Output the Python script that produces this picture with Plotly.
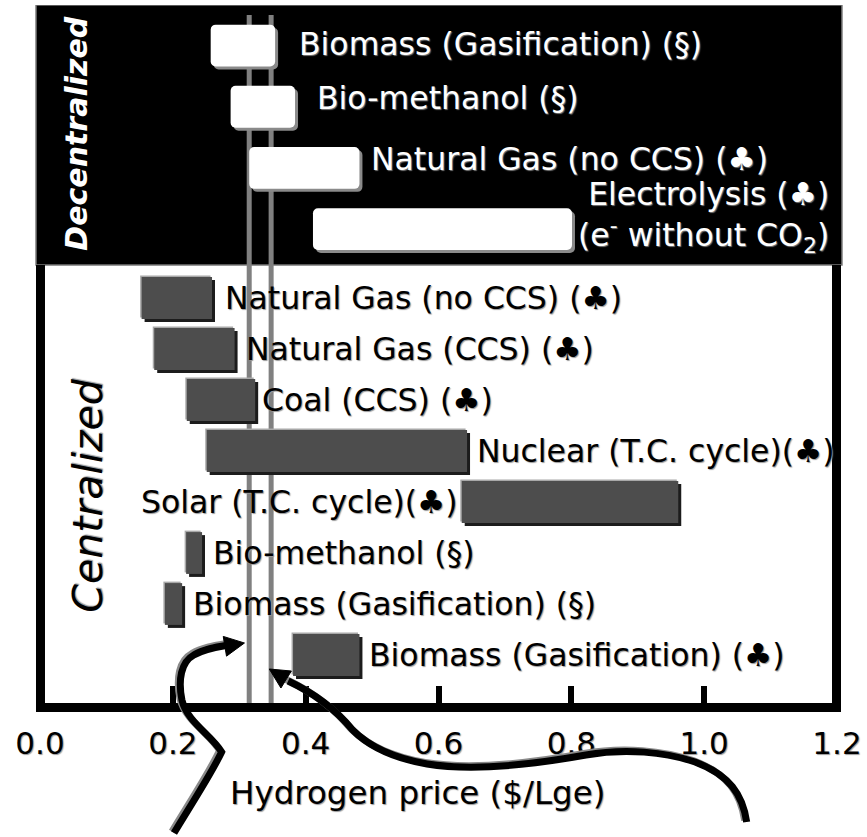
import math
import plotly.graph_objects as go

# ---------------- data ----------------
dec_labels = [
    "Biomass (Gasification) (§)",
    "Bio-methanol (§)",
    "Natural Gas (no CCS) (♣)",
    "Electrolysis (♣)<br>(e<sup>-</sup> without CO<sub>2</sub>)",
]
dec_low = [0.257, 0.287, 0.315, 0.411]
dec_high = [0.354, 0.384, 0.481, 0.801]

cen_labels = [
    "Natural Gas (no CCS) (♣)",
    "Natural Gas (CCS) (♣)",
    "Coal (CCS) (♣)",
    "Nuclear (T.C. cycle)(♣)",
    "Solar (T.C. cycle)(♣)",
    "Bio-methanol (§)",
    "Biomass (Gasification) (§)",
    "Biomass (Gasification) (♣)",
]
cen_low = [0.153, 0.172, 0.221, 0.251, 0.635, 0.220, 0.188, 0.381]
cen_high = [0.259, 0.293, 0.324, 0.643, 0.961, 0.244, 0.214, 0.481]

ref_lines = [0.315, 0.348]

x_tickvals = [0.0, 0.2, 0.4, 0.6, 0.8, 1.0, 1.2]
x_ticktext = ["0.0", "0.2", "0.4", "0.6", "0.8", "1.0", "1.2"]
axis_title = "Hydrogen price ($/Lge)"
group_labels = ["Decentralized", "Centralized"]

# ---------------- layout helpers (positions / styles) ----------------
cen_pos = [7, 6, 5, 4, 3, 2, 1, 0]
dec_pos = [11.95, 10.75, 9.55, 8.35]
split_y = 7.647
y_range = [-1.039, 12.745]
x_range = [0, 1.2]

W, H = 867, 837
ML, MR, MT, MB = 40, 24, 5, 129
PW = W - ML - MR
PH = H - MT - MB
BOTTOM = MT + PH


def X(px):
    return (px - ML) / PW


def Y(py):
    return (BOTTOM - py) / PH


FONT = "DejaVu Sans"
LBL = 31.5
bar_w = 0.82
dx_sh, dy_sh = 3 / 669, 3 / 51
dx_hl, dy_hl = 1.5 / 669, 1.5 / 51

dec_xshift = [22, 20, 10, 4]
dec_yshift = [2, 9, 9, 12]
dec_align = ["left", "left", "left", "right"]
cen_side = ["r", "r", "r", "r", "l", "r", "r", "r"]
cen_xshift = [11, 9, 5, 8, -2, 9, 9, 8]

fig = go.Figure()

dec_w = [h - l for l, h in zip(dec_low, dec_high)]
cen_w = [h - l for l, h in zip(cen_low, cen_high)]

# decentralized bars (white with grey shadow)
fig.add_trace(go.Bar(y=[p - dy_sh for p in dec_pos], base=[l + dx_sh for l in dec_low], x=dec_w,
                     orientation="h", width=bar_w,
                     marker=dict(color="#8a8a8a", line=dict(width=0), cornerradius=5),
                     hoverinfo="skip", showlegend=False))
fig.add_trace(go.Bar(y=dec_pos, base=dec_low, x=dec_w, orientation="h", width=bar_w,
                     marker=dict(color="#ffffff", line=dict(width=0), cornerradius=5),
                     showlegend=False))

# centralized bars (dark grey with highlight + shadow)
fig.add_trace(go.Bar(y=[p - dy_sh for p in cen_pos], base=[l + dx_sh for l in cen_low], x=cen_w,
                     orientation="h", width=bar_w,
                     marker=dict(color="#1c1c1c", line=dict(width=0)),
                     hoverinfo="skip", showlegend=False))
fig.add_trace(go.Bar(y=[p + dy_hl for p in cen_pos], base=[l - dx_hl for l in cen_low], x=cen_w,
                     orientation="h", width=bar_w,
                     marker=dict(color="#a8a8a8", line=dict(width=0)),
                     hoverinfo="skip", showlegend=False))
fig.add_trace(go.Bar(y=cen_pos, base=cen_low, x=cen_w, orientation="h", width=bar_w,
                     marker=dict(color="#4d4d4d", line=dict(width=0)),
                     showlegend=False))

shapes = []
# black decentralized panel
shapes.append(dict(type="rect", xref="paper", yref="y", x0=X(36), x1=X(848), y0=split_y, y1=y_range[1],
                   fillcolor="black", line=dict(color="#777777", width=1.5), layer="below"))
# reference vertical lines
for v in ref_lines:
    shapes.append(dict(type="line", xref="x", yref="y", x0=v, x1=v, y0=y_range[0], y1=12.55,
                       line=dict(color="#808080", width=5), layer="below"))
# thick frame
shapes.append(dict(type="line", xref="paper", yref="paper", x0=X(40.5), x1=X(40.5), y0=Y(265), y1=Y(712),
                   line=dict(color="black", width=9), layer="above"))
shapes.append(dict(type="line", xref="paper", yref="paper", x0=X(842.5), x1=X(842.5), y0=Y(265), y1=Y(712),
                   line=dict(color="black", width=9), layer="above"))
shapes.append(dict(type="line", xref="paper", yref="paper", x0=X(36), x1=X(847), y0=Y(707.5), y1=Y(707.5),
                   line=dict(color="black", width=9), layer="above"))


# curved arrows (decoration) drawn in pixel space
def pth(start, segs, ox=0.0, oy=0.0):
    s = f"M {X(start[0] + ox):.5f},{Y(start[1] + oy):.5f}"
    for c1, c2, p in segs:
        s += " C " + " ".join(f"{X(q[0] + ox):.5f},{Y(q[1] + oy):.5f}" for q in (c1, c2, p))
    return s


def head(tip, frm, length=20, hw=10):
    ux, uy = tip[0] - frm[0], tip[1] - frm[1]
    n = math.hypot(ux, uy)
    ux, uy = ux / n, uy / n
    bx, by = tip[0] - ux * length, tip[1] - uy * length
    px, py = -uy, ux
    p1 = (bx + px * hw, by + py * hw)
    p2 = (bx - px * hw, by - py * hw)
    return (f"M {X(tip[0]):.5f},{Y(tip[1]):.5f} L {X(p1[0]):.5f},{Y(p1[1]):.5f} "
            f"L {X(p2[0]):.5f},{Y(p2[1]):.5f} Z")


arrow1_start = (175, 833)
arrow1_segs = [
    ((190, 808), (212, 775), (223, 752)),
    ((213, 735), (188, 722), (183, 700)),
    ((179, 680), (182, 662), (195, 655)),
    ((205, 649), (218, 647), (230, 645)),
]
arrow2_start = (752, 822)
arrow2_segs = [
    ((748, 795), (735, 775), (700, 762)),
    ((670, 752), (630, 748), (590, 755)),
    ((540, 764), (480, 772), (430, 764)),
    ((395, 758), (370, 745), (355, 730)),
    ((340, 712), (318, 694), (290, 681)),
]
for st, sg in ((arrow1_start, arrow1_segs), (arrow2_start, arrow2_segs)):
    shapes.append(dict(type="path", xref="paper", yref="paper", path=pth(st, sg, -2, -1.5),
                       line=dict(color="#8a8a8a", width=7), layer="above"))
    shapes.append(dict(type="path", xref="paper", yref="paper", path=pth(st, sg),
                       line=dict(color="black", width=7), layer="above"))
shapes.append(dict(type="path", xref="paper", yref="paper", path=head((246, 643), (228, 646)),
                   fillcolor="black", line=dict(color="black", width=1), layer="above"))
shapes.append(dict(type="path", xref="paper", yref="paper", path=head((271, 669), (292, 682)),
                   fillcolor="black", line=dict(color="black", width=1), layer="above"))

annotations = []
white_font = dict(family=FONT, size=LBL, color="white", shadow="1px 1px 1px #777")
black_font = dict(family=FONT, size=LBL, color="black", shadow="1px 1px 1px #999")
for i, (lab, pos) in enumerate(zip(dec_labels, dec_pos)):
    annotations.append(dict(x=dec_high[i], y=pos, xref="x", yref="y", text=lab, showarrow=False,
                            xanchor="left", yanchor="middle", align=dec_align[i],
                            xshift=dec_xshift[i], yshift=dec_yshift[i], font=white_font))
for i, (lab, pos) in enumerate(zip(cen_labels, cen_pos)):
    if cen_side[i] == "l":
        xv, anc = cen_low[i], "right"
    else:
        xv, anc = cen_high[i], "left"
    annotations.append(dict(x=xv, y=pos, xref="x", yref="y", text=lab, showarrow=False,
                            xanchor=anc, yanchor="middle", xshift=cen_xshift[i], font=black_font))

annotations.append(dict(x=X(76), y=Y(134), xref="paper", yref="paper", text=group_labels[0],
                        showarrow=False, textangle=-90, xanchor="center", yanchor="middle",
                        font=dict(family=FONT, size=30, color="white", style="italic", weight="bold")))
annotations.append(dict(x=X(88), y=Y(496), xref="paper", yref="paper", text=group_labels[1],
                        showarrow=False, textangle=-90, xanchor="center", yanchor="middle",
                        font=dict(family=FONT, size=41, color="black", style="italic",
                                  shadow="1px 1px 1px #999")))
annotations.append(dict(x=X(420), y=Y(793), xref="paper", yref="paper", text=axis_title,
                        showarrow=False, xanchor="center", yanchor="middle",
                        font=dict(family=FONT, size=32.5, color="black", shadow="1px 1px 1px #999")))

fig.update_layout(
    width=W, height=H,
    margin=dict(l=ML, r=MR, t=MT, b=MB),
    paper_bgcolor="white", plot_bgcolor="white",
    barmode="overlay",
    showlegend=False,
    xaxis=dict(range=x_range, tickvals=x_tickvals, ticktext=x_ticktext, ticks="inside",
               ticklen=22, tickwidth=6, tickcolor="black", showgrid=False, zeroline=False,
               showline=False, ticklabelstandoff=14, ticklabeloverflow="allow",
               tickfont=dict(family=FONT, size=31, color="black", shadow="1px 1px 1px #999"),
               fixedrange=True),
    yaxis=dict(range=y_range, visible=False, fixedrange=True),
    shapes=shapes,
    annotations=annotations,
)

fig.write_html("out.html", config={"displayModeBar": False},
               post_script="document.body.style.margin='0px';")
